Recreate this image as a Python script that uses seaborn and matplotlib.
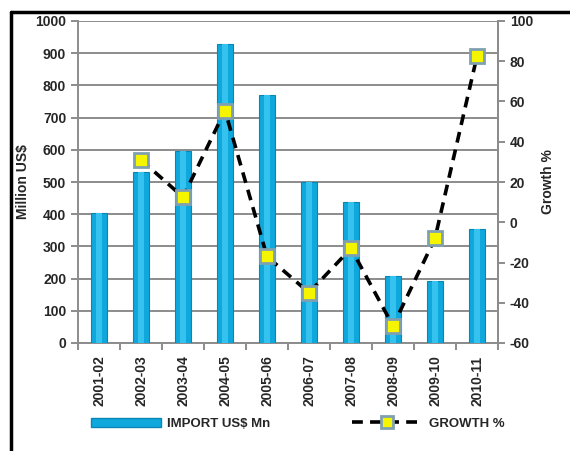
import numpy as np
import pandas as pd
import matplotlib
matplotlib.use("Agg")
import matplotlib.pyplot as plt
import seaborn as sns
from matplotlib.lines import Line2D
from matplotlib.patches import Patch

years = ["2001-02", "2002-03", "2003-04", "2004-05", "2005-06",
         "2006-07", "2007-08", "2008-09", "2009-10", "2010-11"]
imports = [405, 530, 597, 930, 770, 500, 437, 207, 193, 355]
growth_years = years[1:]
growth = [31, 12.5, 55.5, -17, -35, -13, -51.5, -8, 82.5]

sns.set_theme(style="white")
plt.rcParams["font.family"] = ["Liberation Sans Narrow", "Liberation Sans", "DejaVu Sans"]
plt.rcParams["font.weight"] = "bold"
plt.rcParams["axes.unicode_minus"] = False

FS = 10

fig = plt.figure(figsize=(5.7, 4.51), dpi=100)
ax = fig.add_axes([78/570, 1-343/451, (498-78)/570, (343-21)/451])

df = pd.DataFrame({"year": years, "imports": imports})
sns.barplot(data=df, x="year", y="imports", ax=ax, color="#0FA8DD",
            width=0.37, saturation=1, edgecolor="#0A86B5", linewidth=0.8, zorder=3)
# lighter highlight stripe
sns.barplot(data=df, x="year", y="imports", ax=ax, color="#36C2EE",
            width=0.14, saturation=1, linewidth=0, zorder=3.5)

ax.set_ylim(0, 1000)
ax.set_yticks(np.arange(0, 1001, 100))
ax.set_xlim(-0.5, 9.5)
ax.yaxis.grid(True, color="#8C8C8C", linewidth=1.4, zorder=0)
ax.set_axisbelow(True)
ax.spines["top"].set_visible(False)
for s in ["left", "bottom", "right"]:
    ax.spines[s].set_color("#8C8C8C")
    ax.spines[s].set_linewidth(1.4)

ax.set_xticks(range(len(years)))
ax.set_xticklabels(years, rotation=90, fontsize=FS, fontweight="bold")
ax.set_xticks(np.arange(-0.5, 10, 1), minor=True)
ax.tick_params(axis="x", which="major", length=0, pad=9)
ax.tick_params(axis="x", which="minor", length=5, width=1.4, color="#8C8C8C",
               direction="out", bottom=True)
ax.tick_params(axis="y", length=5, width=1.4, color="#8C8C8C", direction="out",
               labelsize=FS, left=True)
for lab in ax.get_yticklabels():
    lab.set_fontweight("bold")
ax.set_xlabel("")
ax.set_ylabel("Million US$", fontsize=FS, fontweight="bold", labelpad=4)

ax2 = ax.twinx()
gx = [years.index(y) for y in growth_years]
ax2.plot(gx, growth, linestyle=(0, (3, 2)), color="black", linewidth=2.6,
         marker="s", markersize=10, markerfacecolor="#F5F500",
         markeredgecolor="#7FA0B0", markeredgewidth=2, zorder=5)
ax2.set_ylim(-60, 100)
ax2.set_yticks(np.arange(-60, 101, 20))
ax2.tick_params(axis="y", length=5, width=1.4, color="#8C8C8C", direction="out",
                labelsize=FS, right=True)
for lab in ax2.get_yticklabels():
    lab.set_fontweight("bold")
for s in ["top", "left", "bottom"]:
    ax2.spines[s].set_visible(False)
ax2.spines["right"].set_color("#8C8C8C")
ax2.spines["right"].set_linewidth(1.4)
ax2.set_ylabel("Growth %", fontsize=FS, fontweight="bold", labelpad=6)
ax2.grid(False)

handles = [Patch(facecolor="#0FA8DD", edgecolor="#0A86B5"),
           Line2D([0], [0], linestyle=(0, (3, 2)), color="black", linewidth=2.6,
                  marker="s", markersize=8, markerfacecolor="#F5F500",
                  markeredgecolor="#7FA0B0", markeredgewidth=2)]
fig.legend(handles, ["IMPORT US$ Mn", "GROWTH %"], loc="center",
           bbox_to_anchor=(0.522, 0.06), ncol=2, frameon=False,
           handlelength=5.3, columnspacing=6.2, handletextpad=0.5,
           prop={"size": FS - 0.5, "weight": "bold"})

# outer frame (top and left edges visible)
fig.add_artist(Line2D([11/570, 1.0], [1-12/451, 1-12/451], color="black", linewidth=2.5,
                      transform=fig.transFigure))
fig.add_artist(Line2D([11/570, 11/570], [0, 1-12/451], color="black", linewidth=2.5,
                      transform=fig.transFigure))

fig.savefig("out.png", dpi=100)
